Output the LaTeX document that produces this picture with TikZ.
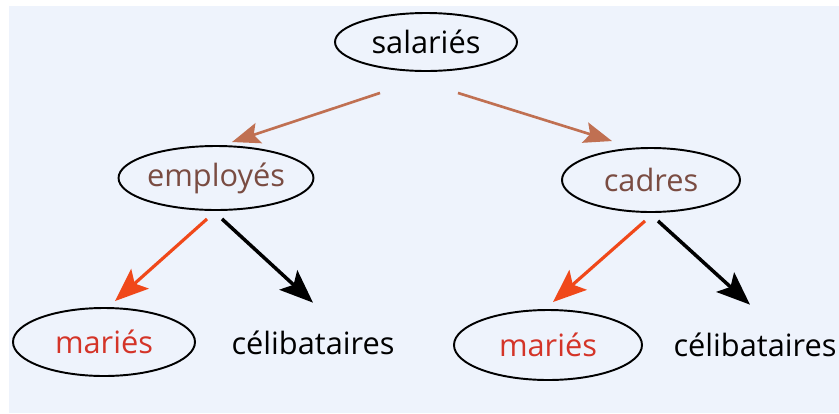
\documentclass[tikz,border=0pt]{standalone}
\usepackage{fontspec}
\setmainfont{Open Sans}
\usetikzlibrary{shapes.geometric,arrows.meta}
\definecolor{fond}{RGB}{238,243,252}
\definecolor{brun}{RGB}{192,112,82}
\definecolor{brunfonce}{RGB}{122,76,66}
\definecolor{rouge}{RGB}{212,52,40}
\definecolor{rougefl}{RGB}{240,72,26}
\begin{document}
\begin{tikzpicture}[x=0.02cm,y=-0.02cm,
 every node/.style={font=\fontsize{17.5}{20}\selectfont,inner sep=0pt},
 ell/.style={ellipse,draw,line width=1.1pt,minimum width=182*0.02cm,minimum height=64*0.02cm},
 fl/.style={line width=1.8pt,-{Stealth[length=19pt,width=15pt,inset=4pt]}},
 flb/.style={brun,line width=1.5pt,-{Stealth[length=16pt,width=12pt,inset=3pt]}}]
\useasboundingbox (0,0) rectangle (839,413);
\fill[white] (0,0) rectangle (839,413);
\fill[fond] (9,6) rectangle (839,413);
\node[ell,minimum height=58*0.02cm] (sal) at (426,42) {salariés};
\node[ell,text=brunfonce] (emp) at (216,178) {employés};
\node[ell,text=brunfonce,minimum width=178*0.02cm] (cad) at (651,180) {cadres};
\node[ell,text=rouge,minimum height=68*0.02cm] (mar1) at (104,342) {mariés};
\node[minimum height=68*0.02cm] (cel1) at (313,343) {célibataires};
\node[ell,text=rouge,minimum width=188*0.02cm,minimum height=70*0.02cm] (mar2) at (548,345) {mariés};
\node[minimum height=70*0.02cm] (cel2) at (755,345) {célibataires};
\draw[flb] ([shift={(-46,21)}]sal.south)--([shift={(16,-3)}]emp.north);
\draw[flb] ([shift={(32,21)}]sal.south)--([shift={(-39,-6)}]cad.north);
\draw[fl,rougefl] ([shift={(-9,8)}]emp.south)--([shift={(11,-6)}]mar1.north);
\draw[fl,black,line width=2pt] ([shift={(6,8)}]emp.south)--([shift={(0,-6)}]cel1.north);
\draw[fl,rougefl] ([shift={(-6,8)}]cad.south)--([shift={(5,-7)}]mar2.north);
\draw[fl,black,line width=2pt] ([shift={(7,8)}]cad.south)--([shift={(-5,-5)}]cel2.north);
\end{tikzpicture}
\end{document}
